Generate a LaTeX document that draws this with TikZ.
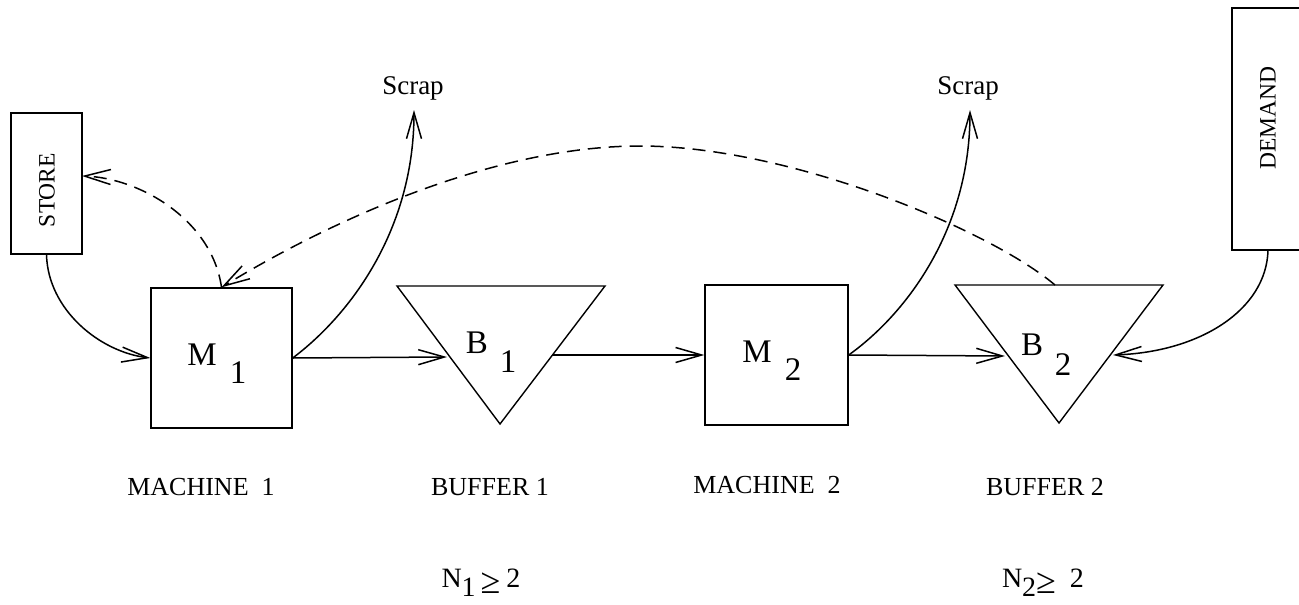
\documentclass[tikz,border=0pt]{standalone}
\usepackage{fontspec}
\setmainfont{Liberation Serif}
\usetikzlibrary{arrows.meta}
\newcommand{\bigge}{{\fontsize{36}{36}\selectfont ≥}}
\begin{document}
\begin{tikzpicture}[x=1pt,y=-1pt,
  box/.style={draw, line width=1.4pt, inner sep=0pt},
  flow/.style={line width=1.5pt, -{Straight Barb[length=26pt,width=15pt,line width=1.5pt]}},
  info/.style={flow, dash pattern=on 13pt off 8pt},
  lab/.style={font=\fontsize{26}{26}\selectfont},
  nlab/.style={font=\fontsize{28}{28}\selectfont},
  scr/.style={font=\fontsize{27}{27}\selectfont},
  sym/.style={font=\fontsize{33}{33}\selectfont, inner sep=0pt},
  side/.style={font=\fontsize{23.5}{23.5}\selectfont}]
\useasboundingbox (0,0) rectangle (1299,605);
\clip (0,0) rectangle (1299,605);
% boxes
\node[box, minimum width=71pt, minimum height=141pt] (store) at (46.5,183.5) {};
\node[side] (storelab) at (47,190) {\rotatebox{90}{STORE}};
\node[box, minimum width=141pt, minimum height=140pt] (m1) at (221.5,358) {};
\node[box, minimum width=143pt, minimum height=140pt] (m2) at (776.5,355) {};
\node[box, minimum width=72pt, minimum height=242pt] (demand) at (1268,129) {};
\node[side] (demandlab) at (1268,118) {\rotatebox{90}{DEMAND}};
% buffers
\coordinate (b1tl) at (397,286);
\coordinate (b1tr) at (605,286);
\coordinate (b1ap) at (500,424);
\draw[line width=1.4pt] (b1tl) -- (b1tr) -- (b1ap) -- cycle;
\coordinate (b2tl) at (955,285);
\coordinate (b2tr) at (1163,285);
\coordinate (b2ap) at (1059,423);
\draw[line width=1.4pt] (b2tl) -- (b2tr) -- (b2ap) -- cycle;
\coordinate (b1in) at (447,357);
\coordinate (b1out) at (552,355);
\coordinate (b2in) at (1005,356);
\coordinate (b2r) at (1113,355);
\coordinate (b2top) at (1055,285);
\coordinate (peak) at (640,146);
\coordinate (storein) at (82,176);
% symbols
\node[sym] (m1m) at (202,355) {M};
\node[sym] (m1s) at (238,373) {1};
\node[sym] (b1b) at (477,343) {B};
\node[sym] (b1s) at (508,362) {1};
\node[sym] (m2m) at (757,352) {M};
\node[sym] (m2s) at (793,370) {2};
\node[sym] (b2b) at (1032,345) {B};
\node[sym] (b2s) at (1063,365) {2};
% scrap
\node[scr] (scrap1) at (413,88) {Scrap};
\node[scr] (scrap2) at (968,88) {Scrap};
\coordinate (s1tip) at (414,110);
\coordinate (s2tip) at (970,110);
% flows
\draw[flow] (m1.east) -- (b1in);
\draw[flow] (b1out) -- (m2.west);
\draw[flow] (m2.east) -- (b2in);
\draw[flow] (store.south) .. controls (48,310) and (100,352) .. (m1.west);
\draw[flow] (demand.south) .. controls (1266,310) and (1200,352) .. (b2r);
\draw[flow] (m1.east) .. controls (350,315) and (414,230) .. (s1tip);
\draw[flow] (m2.east) .. controls (906,314) and (970,230) .. (s2tip);
% information
\draw[info] (b2top) .. controls (990,230) and (790,146) .. (peak) .. controls (500,146) and (340,215) .. (m1.north);
\draw[info] (m1.north) .. controls (212,220) and (140,178) .. (storein);
% labels
\node[lab] (l1) at (201,487) {MACHINE\ \ 1};
\node[lab] (l2) at (490,487) {BUFFER 1};
\node[lab] (l3) at (767,485) {MACHINE\ \ 2};
\node[lab] (l4) at (1045,487) {BUFFER 2};
\node[nlab] (n1) at (481,583) {N\raisebox{-9pt}{1}\hspace{5pt}\raisebox{-6pt}{\bigge}\hspace{6pt}2};
\node[nlab] (n2) at (1043,583) {N\raisebox{-9pt}{2}\raisebox{-6pt}{\bigge}\hspace{14pt}2};
\end{tikzpicture}
\end{document}
